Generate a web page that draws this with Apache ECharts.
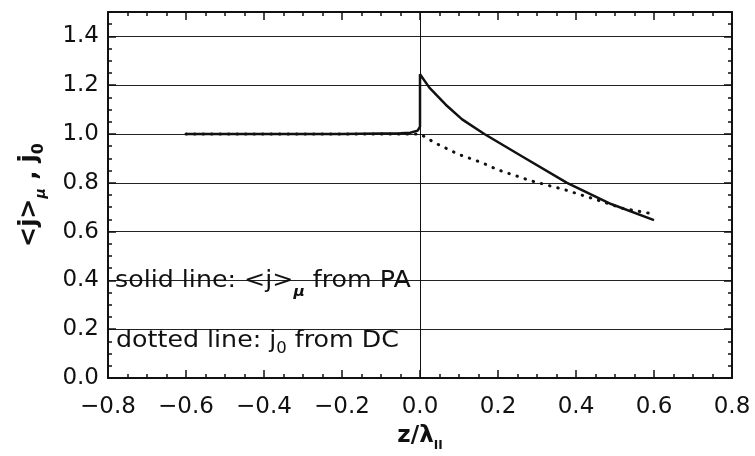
<!DOCTYPE html>
<html>
<head>
<meta charset="utf-8">
<script src="https://cdn.jsdelivr.net/npm/echarts@6/dist/echarts.min.js"></script>
<style>
  html, body { margin: 0; padding: 0; background: #fff; }
  #chart { width: 755px; height: 456px; }
</style>
</head>
<body>
<div id="chart"></div>
<script>
  // solid line: <j>_mu from PA
  var paZ = [-0.6, -0.2, -0.05, -0.025, -0.006, 0.0, 0.0, 0.024, 0.066, 0.108, 0.165, 0.26, 0.377, 0.49, 0.6]
  var paJ = [1.0, 1.0, 1.003, 1.005, 1.014, 1.03, 1.245, 1.19, 1.12, 1.06, 1.0, 0.91, 0.8, 0.713, 0.647]
  // dotted line: j_0 from DC
  var dcZ = [-0.6, 0.0, 0.04, 0.1, 0.16, 0.2, 0.285, 0.37, 0.45, 0.52, 0.6]
  var dcJ = [1.0, 1.0, 0.962, 0.916, 0.882, 0.853, 0.808, 0.772, 0.732, 0.695, 0.672]

  var font = 'DejaVu Sans'
  var black = '#111'

  function zip(a, b) {
    return a.map(function (v, i) { return [v, b[i]] })
  }
  function fmtX(v) {
    return v.toFixed(1).replace('-', '\u2212')
  }
  function fmtY(v) {
    return v > 1.45 ? '' : v.toFixed(1)
  }

  function xAxisOf(pos, withLabel) {
    return {
      type: 'value', position: pos, min: -0.8, max: 0.8, interval: 0.2,
      axisLine: { show: true, onZero: false, lineStyle: { color: black, width: 2 } },
      axisTick: { show: true, inside: true, length: 8, lineStyle: { color: black, width: 1.5 } },
      minorTick: { show: true, splitNumber: 4, length: 4, lineStyle: { color: black, width: 1.5 } },
      splitLine: { show: false },
      axisLabel: {
        show: withLabel, fontFamily: font, fontSize: 23, color: black, margin: 18,
        formatter: fmtX
      }
    }
  }
  function yAxisOf(pos, interval, major) {
    return {
      type: 'value', position: pos, min: 0, max: 1.5, interval: interval,
      axisLine: { show: major, onZero: false, lineStyle: { color: black, width: 2 } },
      axisTick: { show: true, inside: true, length: major ? 8 : 4, lineStyle: { color: black, width: 1.5 } },
      splitLine: { show: false },
      axisLabel: { show: false }
    }
  }

  var chart = echarts.init(document.getElementById('chart'))

  var xBottom = xAxisOf('bottom', true)
  xBottom.name = 'z/λ{s|II}'
  xBottom.nameLocation = 'middle'
  xBottom.nameGap = 43
  xBottom.nameMoveOverlap = false
  xBottom.nameTextStyle = {
    fontFamily: font, fontSize: 23, fontWeight: 'bold', color: black, lineHeight: 30,
    rich: {
      s: { fontFamily: font, fontSize: 12, fontWeight: 'bold', color: black, height: 10, verticalAlign: 'bottom' }
    }
  }

  var yLeft = yAxisOf('left', 0.2, true)
  yLeft.splitLine = { show: true, lineStyle: { color: '#222', width: 1 } }
  yLeft.axisLabel = { show: true, fontFamily: font, fontSize: 23, color: black, margin: 9, formatter: fmtY, showMaxLabel: false }
  yLeft.name = '<j>{m|μ} , j{z|0}'
  yLeft.nameLocation = 'middle'
  yLeft.nameRotate = 90
  yLeft.nameGap = 63
  yLeft.nameMoveOverlap = false
  yLeft.nameTextStyle = {
    fontFamily: font, fontSize: 24, fontWeight: 'bold', color: black, lineHeight: 30,
    rich: {
      m: { fontFamily: font, fontSize: 14, fontWeight: 'bold', fontStyle: 'italic', color: black, height: 8, verticalAlign: 'bottom' },
      z: { fontFamily: font, fontSize: 16, fontWeight: 'bold', color: black, height: 12, verticalAlign: 'bottom' }
    }
  }

  var option = {
    animation: false,
    backgroundColor: '#fff',
    grid: { left: 108, right: 23, top: 12, bottom: 78, containLabel: false, outerBoundsMode: 'none' },
    xAxis: [xBottom, xAxisOf('top', false)],
    yAxis: [
      yLeft,
      yAxisOf('left', 0.05, false),
      yAxisOf('right', 0.2, true),
      yAxisOf('right', 0.05, false)
    ],
    graphic: [
      {
        type: 'text', x: 115, y: 281, z: 10, scaleX: 1.1,
        style: {
          text: 'solid line: <j>{s|μ} from PA',
          font: '23px "DejaVu Sans"', fill: black, lineHeight: 30, verticalAlign: 'middle',
          rich: {
            s: { font: 'bold italic 14px "DejaVu Sans"', fill: black, height: 8, verticalAlign: 'bottom' }
          }
        }
      },
      {
        type: 'text', x: 116, y: 341, z: 10, scaleX: 1.1,
        style: {
          text: 'dotted line: j{s|0} from DC',
          font: '23px "DejaVu Sans"', fill: black, lineHeight: 28, verticalAlign: 'middle',
          rich: {
            s: { font: '15px "DejaVu Sans"', fill: black, height: 12, verticalAlign: 'bottom' }
          }
        }
      }
    ],
    series: [
      {
        name: 'PA',
        type: 'line',
        xAxisIndex: 0,
        yAxisIndex: 0,
        symbol: 'none',
        z: 4,
        lineStyle: { color: black, width: 2.5 },
        data: zip(paZ, paJ),
        markLine: {
          silent: true,
          symbol: 'none',
          label: { show: false },
          lineStyle: { color: black, width: 1, type: 'solid' },
          data: [{ xAxis: 0 }]
        }
      },
      {
        name: 'DC',
        type: 'line',
        xAxisIndex: 0,
        yAxisIndex: 0,
        symbol: 'none',
        z: 3,
        lineStyle: { color: black, width: 3, type: [0.5, 8], cap: 'round' },
        data: zip(dcZ, dcJ)
      }
    ]
  }
  chart.setOption(option)
</script>
</body>
</html>
